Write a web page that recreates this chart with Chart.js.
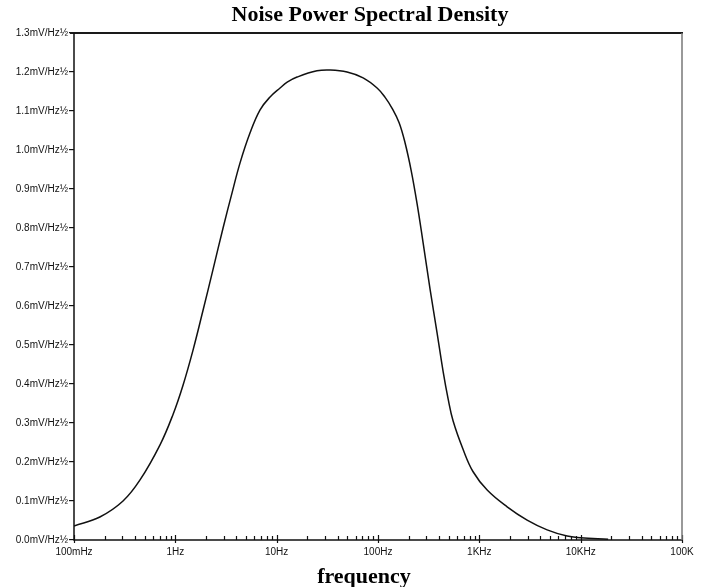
<!DOCTYPE html>
<html>
<head>
<meta charset="utf-8">
<script src="https://cdn.jsdelivr.net/npm/chart.js@4"></script>
<style>
html,body{margin:0;padding:0;background:#fff;}
#wrap{width:711px;height:587px;}
</style>
</head>
<body>
<div id="wrap"><canvas id="c" width="711" height="587"></canvas></div>
<script>
// ---- data ----
const freqs = [0.1, 0.18, 0.3047, 0.4483, 0.7063, 0.949, 1.191, 1.495, 1.877, 2.356, 2.958, 3.628, 4.352, 5.463, 6.859, 8.61, 10.8, 12.7, 15.9, 25.0, 33.7, 49.5, 71.3, 97.97, 117.5, 137.8, 161.6, 185.1, 212.3, 243.2, 278.8, 326.9, 383.4, 439.3, 492.0, 551.3, 692, 868, 1195, 1881, 2962, 4668, 7356, 9890, 18660];
const noise = [0.036, 0.059, 0.100, 0.154, 0.244, 0.322, 0.397, 0.487, 0.589, 0.694, 0.80, 0.89, 0.967, 1.044, 1.103, 1.136, 1.159, 1.174, 1.187, 1.203, 1.205, 1.2, 1.185, 1.159, 1.135, 1.107, 1.07, 1.018, 0.948, 0.862, 0.762, 0.642, 0.53, 0.432, 0.362, 0.305, 0.232, 0.175, 0.128, 0.085, 0.051, 0.026, 0.01, 0.006, 0.002];
const xDecades = [0.1, 1, 10, 100, 1000, 10000, 100000];
const xTickLabels = ['100mHz', '1Hz', '10Hz', '100Hz', '1KHz', '10KHz', '100K'];
const yTickValues = [0, 0.1, 0.2, 0.3, 0.4, 0.5, 0.6, 0.7, 0.8, 0.9, 1.0, 1.1, 1.2, 1.3];
const yTickLabels = ['0.0mV/Hz½', '0.1mV/Hz½', '0.2mV/Hz½', '0.3mV/Hz½', '0.4mV/Hz½', '0.5mV/Hz½', '0.6mV/Hz½', '0.7mV/Hz½', '0.8mV/Hz½', '0.9mV/Hz½', '1.0mV/Hz½', '1.1mV/Hz½', '1.2mV/Hz½', '1.3mV/Hz½'];
const titleText = 'Noise Power Spectral Density';
const xTitleText = 'frequency';

const points = freqs.map((f, i) => ({x: f, y: noise[i]}));

// all tick values (decades + minor 2..9)
const xAllTicks = [];
for (let d = 0; d < xDecades.length; d++) {
  xAllTicks.push(xDecades[d]);
  if (d < xDecades.length - 1) {
    for (let m = 2; m <= 9; m++) xAllTicks.push(+(xDecades[d] * m).toPrecision(6));
  }
}

const serif = '"Liberation Serif", "Times New Roman", serif';

const framePlugin = {
  id: 'frame',
  afterDatasetsDraw(chart) {
    const {ctx, chartArea: a} = chart;
    const xs = chart.scales.x;
    ctx.save();
    // inner x ticks
    ctx.strokeStyle = '#111';
    ctx.lineWidth = 1.2;
    xs.ticks.forEach(t => {
      const px = Math.round(xs.getPixelForValue(t.value)) + 0.5;
      const isMajor = xDecades.some(v => Math.abs(v - t.value) / v < 1e-6);
      ctx.beginPath();
      if (isMajor) { ctx.moveTo(px, a.bottom + 3); ctx.lineTo(px, a.bottom - 5); }
      else { ctx.moveTo(px, a.bottom); ctx.lineTo(px, a.bottom - 4); }
      ctx.stroke();
    });
    // frame
    ctx.lineWidth = 2;
    ctx.strokeStyle = '#1a1a1a';
    ctx.beginPath(); ctx.moveTo(a.left - 4, a.top); ctx.lineTo(a.right + 1, a.top); ctx.stroke();
    ctx.lineWidth = 1.5;
    ctx.strokeStyle = '#111';
    ctx.beginPath(); ctx.moveTo(a.left, a.top); ctx.lineTo(a.left, a.bottom); ctx.lineTo(a.right, a.bottom); ctx.stroke();
    ctx.strokeStyle = '#777';
    ctx.beginPath(); ctx.moveTo(a.right, a.top); ctx.lineTo(a.right, a.bottom); ctx.stroke();
    // titles
    ctx.fillStyle = '#000';
    ctx.font = 'bold 22px ' + serif;
    ctx.textAlign = 'center';
    ctx.textBaseline = 'alphabetic';
    ctx.fillText(titleText, 370, 21);
    ctx.fillText(xTitleText, 364, 583);
    ctx.restore();
  }
};

new Chart(document.getElementById('c'), {
  type: 'line',
  data: {
    datasets: [{
      data: points,
      borderColor: '#111',
      borderWidth: 1.5,
      pointRadius: 0,
      tension: 0.4,
      fill: false
    }]
  },
  options: {
    responsive: false,
    animation: false,
    layout: {padding: {left: 0, right: 29, top: 33, bottom: 0}},
    plugins: {
      legend: {display: false},
      tooltip: {enabled: false},
      title: {display: false}
    },
    scales: {
      x: {
        type: 'logarithmic',
        min: 0.1,
        max: 100000,
        afterBuildTicks(scale) { scale.ticks = xAllTicks.map(v => ({value: v})); },
        afterFit(scale) { scale.height = 47; },
        grid: {display: true, drawOnChartArea: false, drawTicks: false, tickLength: 0, color: 'rgba(0,0,0,0)'},
        border: {display: false},
        ticks: {
          autoSkip: false,
          maxRotation: 0,
          padding: 6,
          color: '#111',
          font: {family: '"Liberation Sans", Arial, sans-serif', size: 10},
          callback(value) {
            const i = xDecades.findIndex(v => Math.abs(v - value) / v < 1e-6);
            return i >= 0 ? xTickLabels[i] : '';
          }
        },
        title: {display: false}
      },
      y: {
        type: 'linear',
        min: 0,
        max: 1.3,
        afterBuildTicks(scale) { scale.ticks = yTickValues.map(v => ({value: v})); },
        afterFit(scale) { scale.width = 74; },
        grid: {display: true, drawOnChartArea: false, drawTicks: true, tickLength: 5, color: '#111', lineWidth: 1.2},
        border: {display: false},
        ticks: {
          padding: 1,
          color: '#111',
          font: {family: '"Liberation Sans", Arial, sans-serif', size: 10},
          callback(value, index) { return yTickLabels[index]; }
        }
      }
    }
  },
  plugins: [framePlugin]
});
</script>
</body>
</html>
